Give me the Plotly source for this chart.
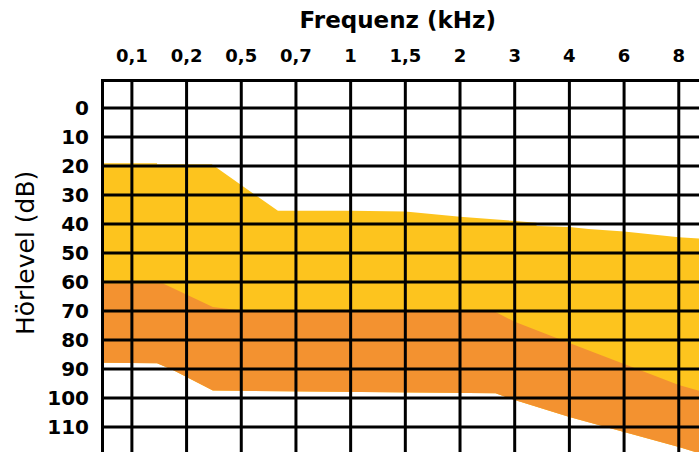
import plotly.graph_objects as go

# ---- data ----
freq_labels = ["0,1", "0,2", "0,5", "0,7", "1", "1,5", "2", "3", "4", "6", "8"]
freq_pos = list(range(len(freq_labels)))
db_ticks = [0, 10, 20, 30, 40, 50, 60, 70, 80, 90, 100, 110]

# upper boundary of the yellow zone (position on frequency axis, dB)
yellow_top_x = [-0.51, 0.46, 0.46, 1.46, 2.67, 4.0, 5.0, 6.0, 7.0, 7.4, 7.4, 8.0, 8.35, 9.0, 10.0, 10.37]
yellow_top_y = [19, 19, 19.4, 19.4, 35.4, 35.4, 35.7, 37.5, 38.9, 39.5, 40.7, 41, 41.7, 42.6, 44.5, 45]

# upper boundary of the orange zone
orange_top_x = [-0.51, 0.57, 1.48, 2.0, 6.65, 7.0, 8.0, 8.96, 10.0, 10.37]
orange_top_y = [60.5, 60.5, 68.6, 69.8, 70.3, 73.7, 81, 88, 95.5, 97.5]

# lower boundary of the orange zone
orange_bot_x = [-0.51, 0.46, 0.75, 1.0, 1.48, 6.65, 7.0, 8.0, 9.0, 10.0, 10.37]
orange_bot_y = [87.8, 88, 90.3, 92.8, 97.4, 98.3, 100.7, 106.5, 111.7, 116.9, 119]

x_range = [-0.51, 10.37]
y_range = [118.6, -9]

YELLOW = "#FDC41E"
ORANGE = "#F39230"

fig = go.Figure()

# yellow zone: from its top down to the orange zone's bottom (orange drawn on top)
fig.add_trace(go.Scatter(
    x=yellow_top_x + orange_bot_x[::-1],
    y=yellow_top_y + orange_bot_y[::-1],
    fill="toself", fillcolor=YELLOW, mode="lines",
    line=dict(width=0, color=YELLOW), hoverinfo="skip", showlegend=False))

fig.add_trace(go.Scatter(
    x=orange_top_x + orange_bot_x[::-1],
    y=orange_top_y + orange_bot_y[::-1],
    fill="toself", fillcolor=ORANGE, mode="lines",
    line=dict(width=0, color=ORANGE), hoverinfo="skip", showlegend=False))

# grid drawn above the zones
gx, gy = [], []
for p in freq_pos:
    gx += [p, p, None]
    gy += [y_range[1], y_range[0], None]
for d in db_ticks:
    gx += [x_range[0], x_range[1], None]
    gy += [d, d, None]
fig.add_trace(go.Scatter(x=gx, y=gy, mode="lines",
                         line=dict(color="black", width=3),
                         hoverinfo="skip", showlegend=False))

FONT = "DejaVu Sans"

fig.update_layout(
    width=699, height=452,
    margin=dict(l=104, r=0, t=82, b=0, autoexpand=False),
    paper_bgcolor="white", plot_bgcolor="white",
    hovermode=False,
    title=dict(text="Frequenz (kHz)", xref="container", yref="container",
               x=0.569, y=0.956, xanchor="center", yanchor="middle",
               font=dict(family=FONT, size=23, color="black", weight="bold")),
    xaxis=dict(range=x_range, side="top", tickmode="array",
               tickvals=freq_pos, ticktext=freq_labels,
               showgrid=False, zeroline=False, ticks="",
               ticklabelstandoff=10, automargin=False,
               showline=True, linecolor="black", linewidth=3,
               tickfont=dict(family=FONT, size=18, color="black", weight="bold")),
    yaxis=dict(range=y_range, tickmode="array", tickvals=db_ticks,
               showgrid=False, zeroline=False, ticks="",
               ticklabelstandoff=8, automargin=False,
               showline=True, linecolor="black", linewidth=3,
               tickfont=dict(family=FONT, size=20, color="black", weight="bold")),
    annotations=[dict(text="Hörlevel (dB)", textangle=-90,
                      xref="paper", yref="paper", x=-0.131, y=0.538,
                      xanchor="center", yanchor="middle", showarrow=False,
                      font=dict(family=FONT, size=25, color="black"))],
)

fig.write_html(
    "out.html",
    config={"displayModeBar": False, "staticPlot": True},
    post_script="document.body.style.margin='0';document.body.style.overflow='hidden';",
)
